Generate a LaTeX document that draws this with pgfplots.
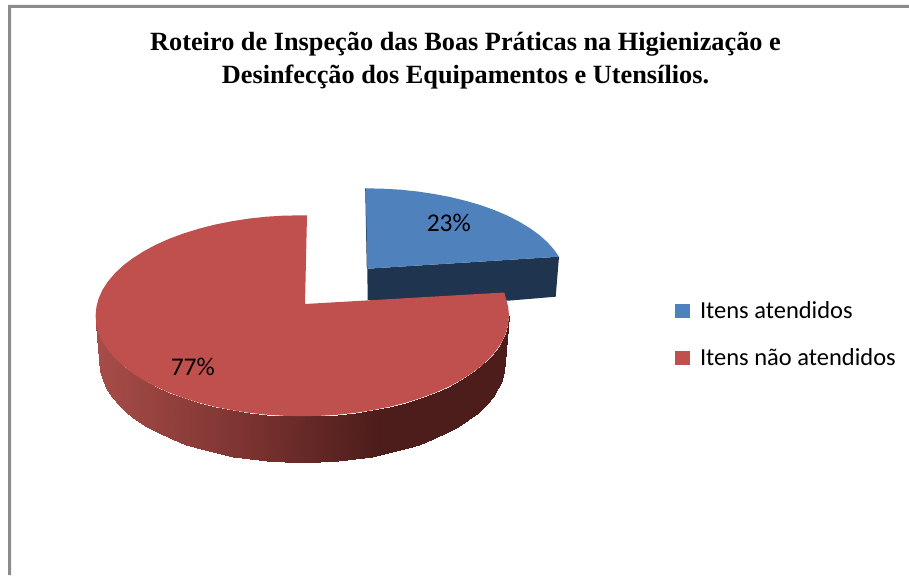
\documentclass[border=0pt]{standalone}
\usepackage{pgfplots}
\pgfplotsset{compat=1.18}
\usepackage{fontspec}
\setmainfont{Carlito}
\newfontfamily\titlefont{Liberation Serif}
\definecolor{pieblue}{RGB}{79,129,189}
\definecolor{piered}{RGB}{192,80,77}
\definecolor{darkblue}{RGB}{31,52,79}
\definecolor{framegray}{RGB}{140,140,140}
\begin{document}
\begin{tikzpicture}
\begin{axis}[
  scale only axis, width=909pt, height=575pt,
  xmin=0, xmax=909, ymin=0, ymax=575, y dir=reverse,
  hide axis, clip=false,
  colormap={wall}{rgb255(0pt)=(168,77,73); rgb255(367pt)=(124,51,48); rgb255(688pt)=(76,29,27); rgb255(1000pt)=(76,29,27)},
  legend cell align=left,
  legend style={at={(rel axis cs:0.7426,0.4783)}, anchor=north west, draw=none, fill=none,
    font=\fontsize{24.5}{24.5}\selectfont, inner sep=0pt, outer sep=0pt,
    row sep=24pt},
  legend image code/.code={\fill[#1] (0pt,-6.8pt) rectangle (15pt,6.8pt); \path (23pt,0pt);},
]
% page area and frame
\addplot[draw=none, fill=white, forget plot] coordinates {(0,0) (909,0) (909,575) (0,575)} -- cycle;
\addplot[draw=none, fill=framegray, forget plot] coordinates {(8,5) (909,5) (909,8) (11,8) (11,575) (8,575)} -- cycle;
% blue wall
\addplot[draw=none, fill=darkblue, forget plot] coordinates {(367.3,268.7) (559,256.7) (555.7,296.7) (508,300.7) (367.7,300.2)} -- cycle;
\addplot[draw=darkblue, line width=1pt, forget plot] coordinates {(365.7,188.3) (367.3,268.7)};
% blue top
\addplot[draw=none, fill=pieblue] coordinates {
 (367.3,268.7) (365.7,188.3) (383.2,188.7) (400.5,189.7) (417.6,191.5) (434.3,194.0) (450.5,197.1)
 (466.1,200.9) (480.8,205.2) (494.7,210.2) (507.6,215.7) (519.4,221.8) (530.1,228.3) (539.5,235.1)
 (547.6,242.4) (554.3,250.0) (559,256.7)} -- cycle;
\addlegendentry{Itens atendidos}
% red wall
\addplot[surf, shader=interp, mesh/rows=2, mesh/cols=37, point meta=x, point meta min=95, point meta max=509, forget plot] table {
x y
95.6 315.7
96.4 324.5
98.7 333.1
102.6 341.7
108.1 350.1
115.0 358.2
123.3 366.0
133.0 373.3
144.0 380.3
156.1 386.8
169.4 392.7
183.7 398.0
198.9 402.7
214.9 406.8
231.6 410.1
248.8 412.8
266.4 414.7
284.3 415.8
302.3 416.2
320.3 415.8
338.2 414.7
355.8 412.8
373.0 410.1
389.7 406.8
405.7 402.7
420.9 398.0
435.2 392.7
448.5 386.8
460.6 380.3
471.6 373.3
481.3 366.0
489.6 358.2
496.5 350.1
502.0 341.7
505.9 333.1
508.2 324.5
509.0 315.7

99.6 362.3
100.4 371.0
102.7 379.7
106.5 388.3
111.8 396.6
118.6 404.7
126.8 412.5
136.2 419.8
147.0 426.8
159.0 433.2
172.0 439.1
186.0 444.5
200.9 449.2
216.6 453.2
233.0 456.6
249.8 459.2
267.1 461.1
284.6 462.2
302.3 462.6
320.0 462.2
337.5 461.1
354.8 459.2
371.6 456.6
388.0 453.2
403.7 449.2
418.6 444.5
432.6 439.1
445.6 433.2
457.6 426.8
468.4 419.8
477.8 412.5
486.0 404.7
492.8 396.6
498.1 388.3
501.9 379.7
504.2 371.0
505.0 362.3
};
% red top
\addplot[draw=none, fill=piered] coordinates {
 (305,304) (307,215.3) (284.3,215.6) (266.4,216.7) (248.8,218.6) (231.6,221.3) (214.9,224.6)
 (198.9,228.7) (183.7,233.4) (169.4,238.7) (156.1,244.6) (144,251.1) (133,258.1) (123.3,265.4)
 (115,273.2) (108.1,281.3) (102.6,289.7) (98.7,298.3) (96.4,306.9) (95.6,315.7)
 (96.4,324.5) (98.7,333.1) (102.6,341.7) (108.1,350.1) (115.0,358.2) (123.3,366.0) (133.0,373.3)
 (144.0,380.3) (156.1,386.8) (169.4,392.7) (183.7,398.0) (198.9,402.7) (214.9,406.8) (231.6,410.1)
 (248.8,412.8) (266.4,414.7) (284.3,415.8) (302.3,416.2) (320.3,415.8) (338.2,414.7) (355.8,412.8)
 (373.0,410.1) (389.7,406.8) (405.7,402.7) (420.9,398.0) (435.2,392.7) (448.5,386.8) (460.6,380.3)
 (471.6,373.3) (481.3,366.0) (489.6,358.2) (496.5,350.1) (502.0,341.7) (505.9,333.1) (508.2,324.5)
 (509.0,315.7) (508.2,306.9) (505.9,298.3) (504.3,292.5)} -- cycle;
\addlegendentry{Itens não atendidos}
\node[font=\fontsize{25.5}{25.5}\selectfont] at (axis cs:448.8,222.8) {23\%};
\node[font=\fontsize{25.5}{25.5}\selectfont] at (axis cs:192.8,367) {77\%};
\node[font=\titlefont\bfseries\fontsize{26.3}{33.5}\selectfont, align=center, anchor=center] at (axis cs:465.5,60.5)
 {Roteiro de Inspeção das Boas Práticas na Higienização e\\Desinfecção dos Equipamentos e Utensílios.};
\end{axis}
\end{tikzpicture}
\end{document}
